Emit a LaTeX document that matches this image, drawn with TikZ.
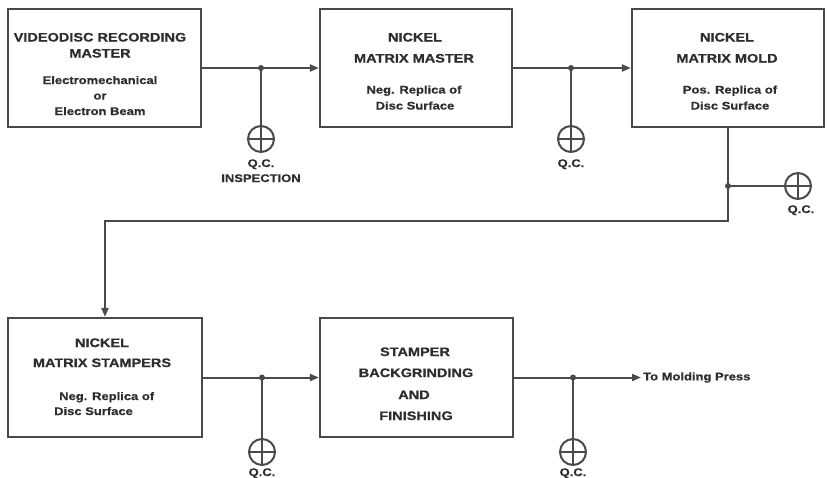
\documentclass[tikz,border=0pt]{standalone}
\usepackage{fontspec}
\usetikzlibrary{arrows.meta}
\newfontfamily\labf{Liberation Sans}[FakeStretch=1.18, BoldFeatures={FakeBold=0.6}]
\definecolor{linec}{HTML}{4A4A4A}
\definecolor{txtc}{HTML}{2E2E2E}
\tikzset{
  box/.style={draw=linec, line width=2.2pt, inner sep=0pt},
  conn/.style={draw=linec, line width=2pt},
  arr/.style={conn, -{Triangle[length=9pt,width=7pt]}},
  jdot/.style={circle, fill=linec, inner sep=0pt, minimum size=6pt},
  qcirc/.style={circle, draw=linec, line width=2pt, minimum size=26pt, inner sep=0pt},
  ttl/.style={anchor=base, inner sep=0pt, text=txtc, font=\labf\bfseries\fontsize{12.3}{15}\selectfont},
  sub/.style={anchor=base, inner sep=0pt, text=txtc, font=\labf\bfseries\fontsize{11}{13}\selectfont},
  qct/.style={anchor=base, inner sep=0pt, text=txtc, font=\labf\bfseries\fontsize{11}{13}\selectfont},
}
\begin{document}
\begin{tikzpicture}[x=1pt,y=-1pt]
\useasboundingbox[fill=white] (0,0) rectangle (827,477);
% boxes
\node[box, minimum width=193pt, minimum height=118pt] (b1) at (104.5,68) {};
\node[box, minimum width=192pt, minimum height=118pt] (b2) at (416,68) {};
\node[box, minimum width=192pt, minimum height=118pt] (b3) at (728,68) {};
\node[box, minimum width=194pt, minimum height=119pt] (b4) at (105,377.5) {};
\node[box, minimum width=193pt, minimum height=119pt] (b5) at (416.5,377.5) {};
% box texts
\node[ttl] (t1a) at (100,41.5) {VIDEODISC RECORDING};
\node[ttl] (t1b) at (100,57.5) {MASTER};
\node[sub] (t1c) at (100,84) {Electromechanical};
\node[sub] (t1d) at (100,99.5) {or};
\node[sub] (t1e) at (100,115) {Electron Beam};
\node[ttl] (t2a) at (415,41.5) {NICKEL};
\node[ttl] (t2b) at (414,62.5) {MATRIX MASTER};
\node[sub] (t2c) at (414,93.5) {Neg. Replica of};
\node[sub] (t2d) at (415,109.5) {Disc Surface};
\node[ttl] (t3a) at (727,41.5) {NICKEL};
\node[ttl] (t3b) at (727,62.5) {MATRIX MOLD};
\node[sub] (t3c) at (730,93.5) {Pos. Replica of};
\node[sub] (t3d) at (730,109.5) {Disc Surface};
\node[ttl] (t4a) at (102,347) {NICKEL};
\node[ttl] (t4b) at (102,367) {MATRIX STAMPERS};
\node[sub, anchor=base west] (t4c) at (59,400) {Neg. Replica of};
\node[sub, anchor=base west] (t4d) at (54,415) {Disc Surface};
\node[ttl] (t5a) at (415,356) {STAMPER};
\node[ttl] (t5b) at (416,377) {BACKGRINDING};
\node[ttl] (t5c) at (414,399) {AND};
\node[ttl] (t5d) at (416,420) {FINISHING};
% QC circles
\node[qcirc] (q1) at (261,139) {};
\node[qcirc] (q2) at (571,139) {};
\node[qcirc] (q3) at (798,186) {};
\node[qcirc] (q4) at (262,452) {};
\node[qcirc] (q5) at (573,452) {};
\foreach \q in {q1,q2,q3,q4,q5}{
  \draw[conn] (\q.north) -- (\q.south);
  \draw[conn] (\q.west) -- (\q.east);
}
\node[qct] (l1a) at (261,167) {Q.C.};
\node[qct] (l1b) at (261,182) {INSPECTION};
\node[qct] (l2) at (571,167) {Q.C.};
\node[qct] (l3) at (801,213) {Q.C.};
\node[qct] (l4) at (262,476) {Q.C.};
\node[qct] (l5) at (573,476) {Q.C.};
% junctions
\coordinate (j1) at (261,68);
\coordinate (j2) at (571,68);
\coordinate (j3) at (728,186);
\coordinate (j4) at (262,377.5);
\coordinate (j5) at (573,377.5);
\coordinate (c1) at (728,221);
\coordinate (c2) at (105,221);
\node[qct, anchor=west, inner sep=2pt] (press) at (641,377.5) {To Molding Press};
% connectors
\draw[arr] (b1) -- (b2);
\draw[arr] (b2) -- (b3);
\draw[arr] (b3.south) -- (c1) -- (c2) -- (b4.north);
\draw[arr] (b4) -- (b5);
\draw[arr] (b5.east) -- (press.west);
\draw[conn] (j1) -- (q1.north);
\draw[conn] (j2) -- (q2.north);
\draw[conn] (j3) -- (q3.west);
\draw[conn] (j4) -- (q4.north);
\draw[conn] (j5) -- (q5.north);
\foreach \j in {j1,j2,j3,j4,j5}{ \node[jdot] (d\j) at (\j) {}; }
\end{tikzpicture}
\end{document}
